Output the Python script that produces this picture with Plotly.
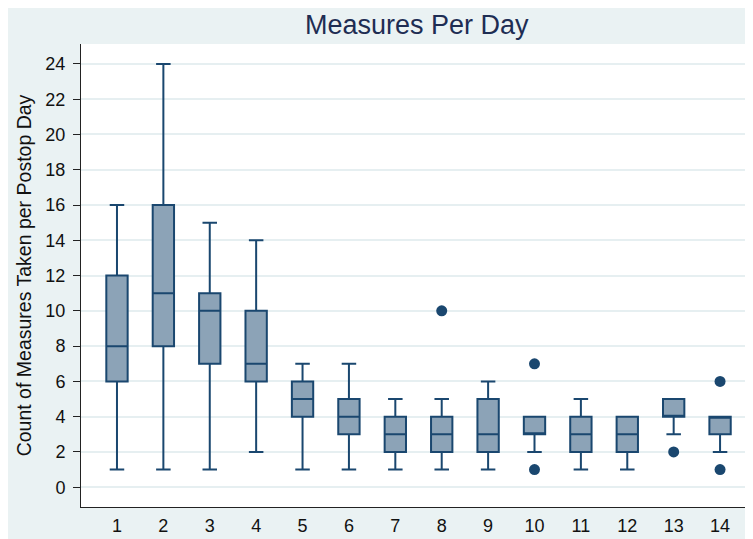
import plotly.graph_objects as go

days = list(range(1, 15))
lower_whisker = [1, 1, 1, 2, 1, 1, 1, 1, 1, 2, 1, 1, 3, 2]
q1 = [6, 8, 7, 6, 4, 3, 2, 2, 2, 3, 2, 2, 4, 3]
median = [8, 11, 10, 7, 5, 4, 3, 3, 3, 3, 3, 3, 4, 4]
q3 = [12, 16, 11, 10, 6, 5, 4, 4, 5, 4, 4, 4, 5, 4]
upper_whisker = [16, 24, 15, 14, 7, 7, 5, 5, 6, 4, 5, 4, 5, 4]

outlier_day = [8, 10, 10, 13, 14, 14]
outlier_value = [10, 7, 1, 2, 6, 1]

y_ticks = list(range(0, 25, 2))

NAVY = "#1A476F"
FILL = "#8CA3B7"
BG = "#EAF2F3"

FW, FH = 745, 531
L, T, B = 72.5, 36, 32
W = FW - L

fig = go.Figure()
fig.add_trace(go.Box(
    x=days, q1=q1, median=median, q3=q3,
    lowerfence=lower_whisker, upperfence=upper_whisker,
    boxpoints=False, width=0.46, whiskerwidth=0.68,
    fillcolor=FILL, line=dict(color=NAVY, width=2),
    showlegend=False,
))
fig.add_trace(go.Scatter(
    x=outlier_day, y=outlier_value, mode="markers",
    marker=dict(color=NAVY, size=11), showlegend=False,
))

fig.update_layout(
    width=FW, height=FH,
    margin=dict(l=L, r=0, t=T, b=B, pad=0, autoexpand=False),
    paper_bgcolor=BG, plot_bgcolor="white",
    font=dict(family="Liberation Sans, Arial, sans-serif", color="#111111"),
    title=dict(text="Measures Per Day", x=(L + W / 2) / FW, xanchor="center",
               y=1 - 17 / FH, yanchor="middle", automargin=False,
               font=dict(size=27, color="#1E2D53")),
)
fig.update_xaxes(
    range=[0.2245, 14.71], tickmode="array", tickvals=days,
    ticktext=[str(d) for d in days], automargin=False,
    ticks="outside", ticklen=2, tickcolor="rgba(0,0,0,0)",
    showline=True, linecolor="#222222", linewidth=1,
    showgrid=False, zeroline=False, tickfont=dict(size=18, color="#111111"),
)
fig.update_yaxes(
    range=[-1.12, 25.13], tickmode="array", tickvals=y_ticks, automargin=False,
    ticks="outside", ticklen=7, tickcolor="#222222", tickwidth=1,
    ticklabelstandoff=4,
    showline=True, linecolor="#222222", linewidth=1,
    showgrid=True, gridcolor="#E6EFF1", gridwidth=1.5, zeroline=False,
    tickfont=dict(size=18, color="#111111"),
    title=dict(text="Count of Measures Taken per Postop Day",
               font=dict(size=19.5, color="#111111"), standoff=8),
)

fig.write_html("out.html")
